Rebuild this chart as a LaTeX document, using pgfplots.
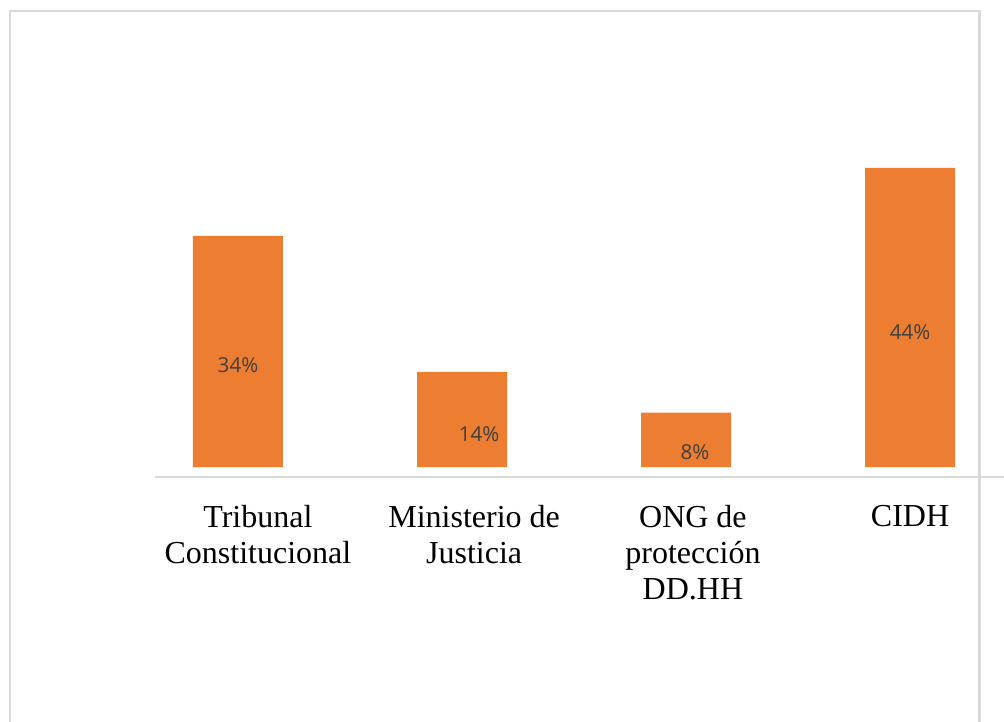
\documentclass[border=0pt]{standalone}
\usepackage{pgfplots}
\pgfplotsset{compat=1.18}
\usepackage{fontspec}
\setmainfont{Liberation Serif}
\newfontfamily\lblfont{Open Sans}
\definecolor{barorange}{HTML}{ED7D31}
\definecolor{lblgray}{HTML}{404040}
\definecolor{framegray}{HTML}{D9D9D9}
\begin{document}
\begin{tikzpicture}
% 1 px of the reference = 0.5bp; axis origin at px (155,477)
\path[use as bounding box] (-77.5bp,-122.5bp) rectangle (424.5bp,238.5bp);
\draw[framegray, line width=1.25bp] (-72.5bp,-130bp) -- (-72.5bp,233bp) -- (412.25bp,233bp) -- (412.25bp,-130bp);
\begin{axis}[
    scale only axis,
    width=424.5bp, height=233bp,
    at={(0,0)}, anchor=south west,
    xmin=-0.3705, xmax=3.4196,
    ymin=-1.4706, ymax=67.06,
    axis x line*=bottom,
    axis y line=none,
    x axis line style={framegray, line width=1.25bp, -},
    xtick={0.089,1.054,2.031,3},
    xticklabels={Tribunal\\Constitucional, Ministerio de\\Justicia, ONG de\\protección\\DD.HH, CIDH},
    major tick length=0pt,
    xticklabel style={align=center, anchor=north, inner sep=0pt, yshift=-14bp,
        font=\fontsize{16bp}{18bp}\selectfont, text=black},
    clip=false,
]
\addplot[ybar, bar width=45bp, bar shift=0pt, fill=barorange, draw=none]
    coordinates {(0,34) (1,14) (2,8) (3,44)};
% data labels, placed where the reference shows them
\addplot[draw=none, mark=none, nodes near coords, point meta=explicit symbolic,
    nodes near coords style={anchor=center, inner sep=0pt, text=lblgray,
        font=\lblfont\fontsize{10.3bp}{12bp}\selectfont}]
    table[meta=lab] {
x     y     lab
0     15.0  34\%
1.076 4.85  14\%
2.04  2.2   8\%
3.0   19.85 44\%
};
\end{axis}
\end{tikzpicture}
\end{document}
